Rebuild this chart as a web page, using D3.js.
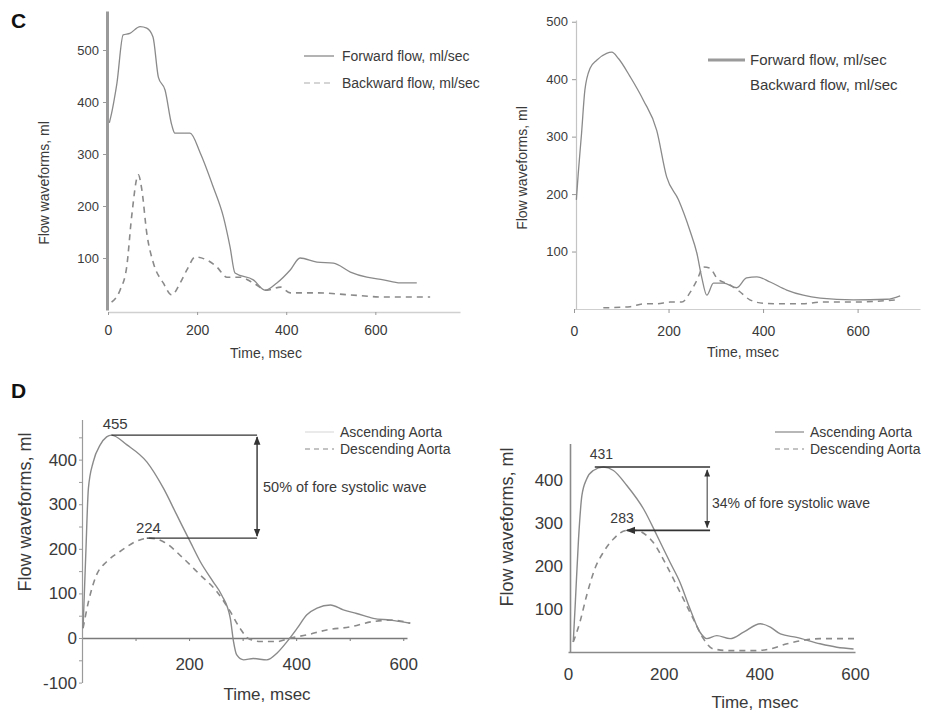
<!DOCTYPE html>
<html><head><meta charset="utf-8">
<script src="https://cdn.jsdelivr.net/npm/d3@7"></script>
<style>
body{margin:0;background:#fff;}
svg{display:block;font-family:"Liberation Sans",Arial,sans-serif;}
</style></head><body>
<svg id="c" width="949" height="713"></svg>
<script>
// ---- Data ----
const xTicksC = [0, 200, 400, 600];
const yTicksC = [100, 200, 300, 400, 500];
const xTicksD = [200, 400, 600];
const yTicksDL = [-100, 0, 100, 200, 300, 400];
const yTicksDR = [100, 200, 300, 400];

// Panel C left
const cL_fwdT = [3, 8, 14, 20, 34, 49, 72, 87, 101, 113, 128, 143, 150, 184, 207, 236, 259, 274, 285, 326, 353, 379, 409, 431, 469, 506, 544, 581, 618, 656, 693];
const cL_fwdV = [360, 378, 405, 436, 529, 532, 545, 542, 525, 448, 423, 356, 340, 340, 302, 237, 179, 121, 71, 58, 38, 52, 77, 100, 92, 90, 73, 63, 58, 52, 52];
const cL_bwdT = [8, 27, 42, 53, 68, 76, 87, 102, 124, 143, 162, 177, 196, 222, 244, 267, 297, 326, 357, 387, 409, 469, 544, 618, 723];
const cL_bwdV = [15, 38, 83, 179, 260, 231, 148, 90, 52, 29, 52, 77, 102, 96, 83, 63, 63, 52, 38, 44, 33, 33, 29, 25, 25];

// Panel C right
const cR_fwdT = [5, 9, 16, 23, 34, 48, 69, 80, 94, 119, 147, 175, 196, 221, 245, 260, 270, 281, 295, 316, 344, 365, 387, 415, 450, 485, 521, 591, 662, 690];
const cR_fwdV = [190, 236, 306, 381, 419, 433, 445, 447, 436, 404, 363, 311, 230, 190, 137, 97, 56, 24, 45, 45, 37, 54, 56, 47, 33, 24, 19, 16, 17, 23];
const cR_bwdT = [62, 119, 147, 175, 203, 228, 245, 260, 274, 288, 302, 330, 351, 372, 401, 450, 485, 521, 591, 683];
const cR_bwdV = [2, 4, 9, 9, 12, 12, 28, 50, 73, 71, 54, 42, 30, 16, 10, 9, 9, 12, 12, 16];

// Panel D left
const dL_ascT = [2, 7, 12, 21, 34, 46, 55, 84, 121, 152, 177, 202, 221, 245, 261, 277, 283, 289, 302, 320, 345, 364, 383, 402, 420, 439, 464, 488, 513, 544, 576, 613];
const dL_ascV = [22, 186, 336, 395, 433, 451, 455, 433, 395, 336, 276, 216, 171, 126, 96, 44, -8, -38, -49, -46, -49, -34, -8, 22, 52, 67, 74, 63, 55, 44, 40, 33];
const dL_desT = [2, 12, 27, 46, 71, 108, 127, 152, 189, 221, 252, 277, 295, 311, 333, 364, 389, 420, 457, 501, 544, 582, 613];
const dL_desV = [22, 81, 141, 171, 194, 220, 224, 216, 179, 141, 104, 59, 22, -1, -8, -8, 0, 7, 18, 25, 37, 40, 33];

// Panel D right
const dR_ascT = [11, 15, 22, 29, 39, 53, 74, 95, 123, 158, 186, 213, 234, 255, 276, 290, 311, 339, 367, 402, 423, 444, 478, 527, 562, 597];
const dR_ascV = [22, 107, 263, 364, 403, 423, 431, 423, 388, 333, 271, 209, 162, 100, 45, 30, 37, 30, 45, 65, 57, 41, 33, 18, 10, 6];
const dR_desT = [11, 25, 39, 56, 74, 95, 123, 140, 178, 206, 234, 262, 283, 304, 339, 388, 423, 458, 492, 527, 604];
const dR_desV = [22, 69, 131, 193, 232, 263, 283, 283, 255, 201, 139, 76, 30, 6, 2, 2, 6, 18, 26, 30, 30];

const cLegend = ["Forward flow, ml/sec", "Backward flow, ml/sec"];
const dLegend = ["Ascending Aorta", "Descending Aorta"];
const dLeftPeaks = [455, 224];
const dRightPeaks = [431, 283];
const dLeftNote = "50% of fore systolic wave";
const dRightNote = "34% of fore systolic wave";

// ---- Drawing ----
const svg = d3.select("#c");
const TXT = "#3a3a3a", LINE = "#8a8a8a";
const zip = (t, v) => t.map((d, i) => [d, v[i]]);

function series(g, x, y, t, v, dashed, w) {
  g.append("path").datum(zip(t, v))
    .attr("fill", "none").attr("stroke", LINE).attr("stroke-width", w || 1.4)
    .attr("stroke-dasharray", dashed ? "6,5" : null)
    .attr("stroke-linejoin", "round")
    .attr("d", d3.line().x(d => x(d[0])).y(d => y(d[1])).curve(d3.curveMonotoneX));
}

function styleAxis(a, color, width, fs) {
  a.select(".domain").attr("stroke", color).attr("stroke-width", width);
  a.selectAll(".tick line").attr("stroke", color).attr("stroke-width", 1);
  a.selectAll(".tick text").attr("fill", TXT).attr("font-size", fs).attr("font-family", "Liberation Sans, Arial, sans-serif");
}

// Panel labels
svg.append("text").attr("x", 11).attr("y", 28).attr("font-size", 21).attr("font-weight", "bold").attr("fill", "#111").text("C");
svg.append("text").attr("x", 11).attr("y", 398).attr("font-size", 21).attr("font-weight", "bold").attr("fill", "#111").text("D");

// ===== C left =====
{
  const x = d3.scaleLinear().domain([0, 790]).range([108, 460]);
  const y = d3.scaleLinear().domain([0, 575]).range([310, 11]);
  const g = svg.append("g");
  const ax = g.append("g").attr("transform", "translate(0,312)")
    .call(d3.axisBottom(x).tickValues(xTicksC).tickSizeOuter(0).tickSizeInner(3).tickPadding(10));
  styleAxis(ax, "#d0d0d0", 1.5, 14);
  ax.selectAll(".tick line").attr("stroke", "#999");
  const ay = g.append("g").attr("transform", "translate(107,0)")
    .call(d3.axisLeft(y).tickValues(yTicksC).tickSizeOuter(0).tickSizeInner(4).tickPadding(4));
  styleAxis(ay, "#9a9a9a", 3, 13);
  series(g, x, y, cL_fwdT, cL_fwdV, false, 1.3);
  series(g, x, y, cL_bwdT, cL_bwdV, true, 1.6);
  g.append("text").attr("transform", "translate(49,183) rotate(-90)").attr("text-anchor", "middle")
    .attr("font-size", 14).attr("fill", TXT).text("Flow waveforms, ml");
  g.append("text").attr("x", 266).attr("y", 358).attr("text-anchor", "middle")
    .attr("font-size", 14).attr("fill", TXT).text("Time, msec");
  const lg = g.append("g");
  [0, 1].forEach(i => {
    const yy = 56 + i * 27;
    lg.append("line").attr("x1", 304).attr("x2", 334).attr("y1", yy).attr("y2", yy)
      .attr("stroke", i ? "#c8c8c8" : LINE).attr("stroke-width", 1.3).attr("stroke-dasharray", i ? "6,4" : null);
    lg.append("text").attr("x", 342).attr("y", yy + 5).attr("font-size", 14).attr("fill", TXT).text(cLegend[i]);
  });
}

// ===== C right =====
{
  const x = d3.scaleLinear().domain([0, 732]).range([574, 920]);
  const y = d3.scaleLinear().domain([0, 503]).range([309, 20]);
  const g = svg.append("g");
  const ax = g.append("g").attr("transform", "translate(0,309)")
    .call(d3.axisBottom(x).tickValues(xTicksC).tickSizeOuter(0).tickSizeInner(4).tickPadding(13));
  styleAxis(ax, "#cfcfcf", 1.2, 14);
  ax.selectAll(".tick line").attr("stroke", "#999");
  const ay = g.append("g").attr("transform", "translate(576,0)")
    .call(d3.axisLeft(y).tickValues(yTicksC).tickSizeOuter(0).tickSizeInner(4).tickPadding(4));
  styleAxis(ay, "#c4c4c4", 1.2, 13);
  ay.selectAll(".tick line").attr("stroke", "#999");
  series(g, x, y, cR_fwdT, cR_fwdV, false, 1.3);
  series(g, x, y, cR_bwdT, cR_bwdV, true, 1.5);
  g.append("text").attr("transform", "translate(527,168) rotate(-90)").attr("text-anchor", "middle")
    .attr("font-size", 14).attr("fill", TXT).text("Flow waveforms, ml");
  g.append("text").attr("x", 743).attr("y", 357).attr("text-anchor", "middle")
    .attr("font-size", 14).attr("fill", TXT).text("Time, msec");
  [0, 1].forEach(i => {
    const yy = 60 + i * 25;
    if (i === 0) g.append("line").attr("x1", 708).attr("x2", 745).attr("y1", yy).attr("y2", yy)
      .attr("stroke", "#9a9a9a").attr("stroke-width", 3);
    g.append("text").attr("x", 750).attr("y", yy + 5).attr("font-size", 15).attr("fill", TXT).text(cLegend[i]);
  });
}

// arrow marker
const defs = svg.append("defs");
defs.append("marker").attr("id", "arr").attr("viewBox", "0 0 10 10").attr("refX", 9).attr("refY", 5)
  .attr("markerWidth", 6).attr("markerHeight", 6).attr("orient", "auto-start-reverse")
  .append("path").attr("d", "M0,1 L10,5 L0,9 z").attr("fill", "#333");

// ===== D left =====
{
  const x = d3.scaleLinear().domain([0, 607]).range([82, 407]);
  const y = d3.scaleLinear().domain([-100, 490]).range([682.6, 419.5]);
  const g = svg.append("g");
  const ax = g.append("g").attr("transform", `translate(0,${y(0)})`)
    .call(d3.axisBottom(x).tickValues([100, 200, 300, 400, 500, 600]).tickFormat(d => xTicksD.includes(d) ? d : "")
      .tickSizeOuter(0).tickSizeInner(3).tickPadding(17));
  styleAxis(ax, "#7a7a7a", 1.6, 17);
  const ay = g.append("g").attr("transform", "translate(82,0)")
    .call(d3.axisLeft(y).tickValues(d3.range(-100, 451, 50)).tickFormat(d => yTicksDL.includes(d) ? d : "")
      .tickSizeOuter(0).tickSizeInner(3).tickPadding(2));
  styleAxis(ay, "#9a9a9a", 1.2, 17);
  series(g, x, y, dL_ascT, dL_ascV, false, 1.4);
  series(g, x, y, dL_desT, dL_desV, true, 1.6);
  // annotation
  const xa = x(327);
  g.append("line").attr("x1", x(55)).attr("x2", xa).attr("y1", y(dLeftPeaks[0])).attr("y2", y(dLeftPeaks[0]))
    .attr("stroke", "#333").attr("stroke-width", 1.4);
  g.append("line").attr("x1", x(121)).attr("x2", xa).attr("y1", y(dLeftPeaks[1])).attr("y2", y(dLeftPeaks[1]))
    .attr("stroke", "#333").attr("stroke-width", 1.4);
  g.append("line").attr("x1", xa).attr("x2", xa).attr("y1", y(dLeftPeaks[0]) + 2).attr("y2", y(dLeftPeaks[1]) - 2)
    .attr("stroke", "#333").attr("stroke-width", 1.4)
    .attr("marker-start", "url(#arr)").attr("marker-end", "url(#arr)");
  g.append("text").attr("x", x(62)).attr("y", y(dLeftPeaks[0]) - 6).attr("text-anchor", "middle")
    .attr("font-size", 15).attr("fill", TXT).text(dLeftPeaks[0]);
  g.append("text").attr("x", x(124)).attr("y", y(dLeftPeaks[1]) - 5).attr("text-anchor", "middle")
    .attr("font-size", 15).attr("fill", TXT).text(dLeftPeaks[1]);
  g.append("text").attr("x", 263).attr("y", 492).attr("font-size", 14.5).attr("fill", TXT).text(dLeftNote);
  g.append("text").attr("transform", "translate(31,512) rotate(-90)").attr("text-anchor", "middle")
    .attr("font-size", 18).attr("fill", TXT).text("Flow waveforms, ml");
  g.append("text").attr("x", 267).attr("y", 700).attr("text-anchor", "middle")
    .attr("font-size", 17).attr("fill", TXT).text("Time, msec");
  [0, 1].forEach(i => {
    const yy = 432 + i * 17;
    g.append("line").attr("x1", 305).attr("x2", 334).attr("y1", yy).attr("y2", yy)
      .attr("stroke", i ? "#888" : "#ddd").attr("stroke-width", 1.2).attr("stroke-dasharray", i ? "5,4" : null);
    g.append("text").attr("x", 340).attr("y", yy + 5).attr("font-size", 14).attr("fill", TXT).text(dLegend[i]);
  });
}

// ===== D right =====
{
  const x = d3.scaleLinear().domain([0, 600]).range([568, 855]);
  const y = d3.scaleLinear().domain([0, 486]).range([651.5, 443.5]);
  const g = svg.append("g");
  const ax = g.append("g").attr("transform", "translate(0,652)")
    .call(d3.axisBottom(x).tickValues([0, 200, 400, 600]).tickSizeOuter(0).tickSize(0).tickPadding(16));
  styleAxis(ax, "#8a8a8a", 1.6, 17);
  const ay = g.append("g").attr("transform", "translate(570,0)")
    .call(d3.axisLeft(y).tickValues(yTicksDR).tickSizeOuter(0).tickSizeInner(0).tickPadding(7));
  styleAxis(ay, "#8a8a8a", 1.6, 17);
  series(g, x, y, dR_ascT, dR_ascV, false, 1.4);
  series(g, x, y, dR_desT, dR_desV, true, 1.6);
  const xa = x(291);
  g.append("line").attr("x1", x(56)).attr("x2", x(297)).attr("y1", y(dRightPeaks[0])).attr("y2", y(dRightPeaks[0]))
    .attr("stroke", "#333").attr("stroke-width", 1.6);
  g.append("line").attr("x1", x(123)).attr("x2", x(297)).attr("y1", y(dRightPeaks[1])).attr("y2", y(dRightPeaks[1]))
    .attr("stroke", "#333").attr("stroke-width", 1.6).attr("marker-start", "url(#arr)");
  g.append("line").attr("x1", xa).attr("x2", xa).attr("y1", y(dRightPeaks[0]) + 3).attr("y2", y(dRightPeaks[1]) - 3)
    .attr("stroke", "#555").attr("stroke-width", 1.2)
    .attr("marker-start", "url(#arr)").attr("marker-end", "url(#arr)");
  g.append("text").attr("x", x(70)).attr("y", y(dRightPeaks[0]) - 8).attr("text-anchor", "middle")
    .attr("font-size", 14).attr("fill", TXT).text(dRightPeaks[0]);
  g.append("text").attr("x", x(113)).attr("y", y(dRightPeaks[1]) - 7).attr("text-anchor", "middle")
    .attr("font-size", 14).attr("fill", TXT).text(dRightPeaks[1]);
  g.append("text").attr("x", 712).attr("y", 508).attr("font-size", 14).attr("fill", TXT).text(dRightNote);
  g.append("text").attr("transform", "translate(513,527) rotate(-90)").attr("text-anchor", "middle")
    .attr("font-size", 18).attr("fill", TXT).text("Flow waveforms, ml");
  g.append("text").attr("x", 755).attr("y", 708).attr("text-anchor", "middle")
    .attr("font-size", 17).attr("fill", TXT).text("Time, msec");
  [0, 1].forEach(i => {
    const yy = 432 + i * 17;
    g.append("line").attr("x1", 775).attr("x2", 804).attr("y1", yy).attr("y2", yy)
      .attr("stroke", "#888").attr("stroke-width", 1.2).attr("stroke-dasharray", i ? "5,4" : null);
    g.append("text").attr("x", 810).attr("y", yy + 5).attr("font-size", 14).attr("fill", TXT).text(dLegend[i]);
  });
}
</script>
</body></html>
